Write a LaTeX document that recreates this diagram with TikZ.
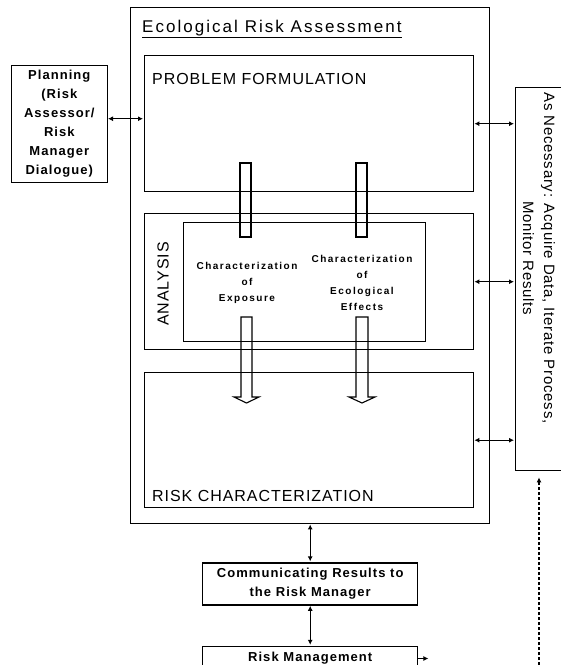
\documentclass[tikz,border=0pt]{standalone}
\usepackage{fontspec}
\setmainfont{Liberation Sans}
\usetikzlibrary{positioning, arrows.meta, calc}

\begin{document}
\begin{tikzpicture}[x=1pt, y=-1pt, shorten >=1pt, >={Latex[length=5pt,width=5pt]},
    box/.style={draw, line width=1.4pt, inner sep=0pt},
    link/.style={line width=1.1pt},
    hollow/.style={draw, line width=1.1pt},
    head/.style={font=\fontsize{16}{19}\selectfont\addfontfeature{LetterSpace=6}},
    side/.style={font=\fontsize{15}{21}\selectfont\addfontfeature{LetterSpace=5}},
    small/.style={font=\bfseries\fontsize{13}{19}\selectfont\addfontfeature{LetterSpace=8}},
    tiny/.style={font=\bfseries\fontsize{10}{16}\selectfont\addfontfeature{LetterSpace=15}}]
    \useasboundingbox (0,0) rectangle (561,665);

    % the assessment and its three phases
    \node[box, anchor=north west, minimum width=359, minimum height=516] (era) at (130,7) {};
    \node[anchor=base west, inner sep=0pt, font=\fontsize{17}{20}\selectfont\addfontfeature{LetterSpace=12}] (title) at (142,32) {\underline{Ecological Risk Assessment}};
    \node[box, anchor=north west, minimum width=329, minimum height=136] (pf) at (144,55) {};
    \node[head, anchor=base west, inner sep=0pt] (pftext) at (152,84) {PROBLEM FORMULATION};
    \node[box, anchor=north west, minimum width=329, minimum height=136] (an) at (144,213) {};
    \node[head, rotate=90, inner sep=0pt] (antext) at (163,284) {ANALYSIS};
    \node[box, anchor=north west, minimum width=242, minimum height=119] (chr) at (183,222) {};
    \node[tiny, align=center] (expo) at (247,283) {Characterization\\of\\Exposure};
    \node[tiny, align=center] (eco) at (362,283) {Characterization\\of\\Ecological\\Effects};
    \node[box, anchor=north west, minimum width=329, minimum height=135] (rc) at (144,372) {};
    \node[head, anchor=base west, inner sep=0pt] (rctext) at (152,501) {RISK CHARACTERIZATION};

    % boxes around it
    \node[box, small, align=center, minimum width=96, minimum height=117, left=36pt of pf.west] (plan) {Planning\\(Risk\\Assessor/\\Risk\\Manager\\Dialogue)};
    \node[box, anchor=north west, minimum width=90, minimum height=383] (acq) at (515,87) {};
    \node[side, rotate=-90, align=center] (acqtext) at (539,258) {As Necessary: Acquire Data, Iterate Process,\\Monitor Results};
    \node[box, small, align=center, minimum width=215, minimum height=42, below=38pt of era.south] (comm) {Communicating Results to\\the Risk Manager};
    \node[box, small, minimum width=215, minimum height=24, below=40pt of comm.south] (rm) {Risk Management};
    \coordinate (loop) at (539,700);

    % hollow links between the phases
    \draw[hollow] (240,163) rectangle (251,237);
    \draw[hollow] (356,163) rectangle (367,237);
    \draw[hollow] (241,317) -- (241,397) -- (234,397) -- (246.5,403) -- (259,397) -- (252,397) -- (252,317) -- cycle;
    \draw[hollow] (356,317) -- (356,397) -- (349,397) -- (362,403) -- (375,397) -- (368,397) -- (368,317) -- cycle;

    \path[<->, link]
    ([yshift=5pt]plan.east) edge ([yshift=5pt]pf.west)
    (pf.east) edge (pf.east -| acq.west)
    (an.east) edge (an.east -| acq.west)
    (rc.east) edge (rc.east -| acq.west)
    (era.south) edge (comm.north)
    (comm.south) edge (rm.north);

    \draw[->, link] (rm.east) -- ++(11,0);
    \draw[->, link, dash pattern=on 3pt off 2pt, shorten >=6pt] (loop) -- (loop |- acq.south);
\end{tikzpicture}
\end{document}
